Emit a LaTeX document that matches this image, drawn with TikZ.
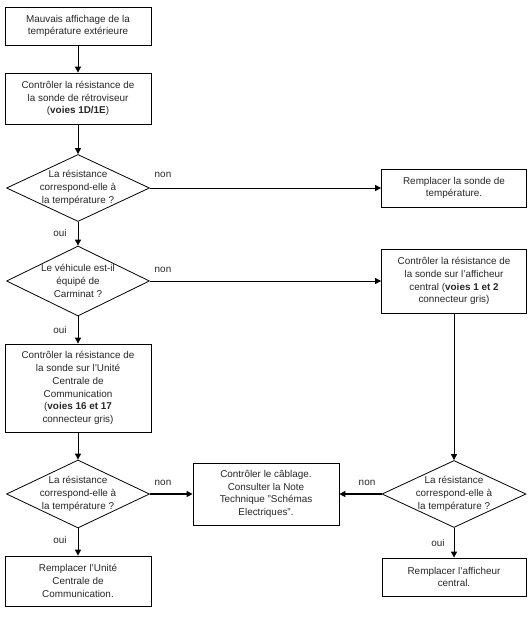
\documentclass[tikz,border=0pt]{standalone}
\usepackage{fontspec}
\setmainfont{Liberation Sans}
\usetikzlibrary{shapes.geometric,arrows.meta}
\begin{document}
\begin{tikzpicture}[x=1pt,y=-1pt,
  every node/.style={font=\fontsize{9.9}{12.8}\selectfont, text=black!85},
  box/.style={draw, line width=0.8pt, align=center, inner sep=0pt, minimum width=146pt},
  dia/.style={draw, diamond, line width=0.8pt, inner sep=0pt, minimum width=143pt, minimum height=#1},
  dtext/.style={align=center, inner sep=0pt},
  arr/.style={-{Triangle[length=6pt,width=6pt]}, line width=1pt},
  thickarr/.style={-{Triangle[length=6pt,width=6pt]}, line width=1.8pt},
  lab/.style={inner sep=0pt}]
\useasboundingbox (0,0) rectangle (530,629);
% left column
\node[box, minimum height=38pt] (b1) at (78,26) {Mauvais affichage de la\\température extérieure};
\node[box, minimum height=51pt] (b2) at (78,98.5) {Contrôler la résistance de\\la sonde de rétroviseur\\(\textbf{voies 1D/1E})};
\node[dia=67pt] (d1) at (78,188) {};
\node[dtext] (d1t) at (d1.center) {La résistance\\correspond-elle à\\la température ?};
\node[dia=70pt] (d2) at (78,281) {};
\node[dtext] (d2t) at (d2.center) {Le véhicule est-il\\équipé de\\Carminat ?};
\node[box, minimum height=88pt] (b3) at (78,388) {Contrôler la résistance de\\la sonde sur l'Unité\\Centrale de\\Communication\\(\textbf{voies 16 et 17}\\connecteur gris)};
\node[dia=68pt] (d3) at (78,494) {};
\node[dtext] (d3t) at (d3.center) {La résistance\\correspond-elle à\\la température ?};
\node[box, minimum height=50pt] (b4) at (78,581) {Remplacer l'Unité\\Centrale de\\Communication.};
% middle
\node[box, minimum height=62pt] (cab) at (266,494) {Contrôler le câblage.\\Consulter la Note\\Technique "Schémas\\Electriques".};
% right column
\node[box, minimum width=145pt, minimum height=38pt] (r1) at (454,188) {Remplacer la sonde de\\température.};
\node[box, minimum width=145pt, minimum height=64pt] (r2) at (454,281) {Contrôler la résistance de\\la sonde sur l'afficheur\\central (\textbf{voies 1 et 2}\\connecteur gris)};
\node[dia=67pt, minimum width=144pt] (d4) at (454,494) {};
\node[dtext] (d4t) at (d4.center) {La résistance\\correspond-elle à\\la température ?};
\node[box, minimum width=144pt, minimum height=38pt] (b5) at (454,577) {Remplacer l'afficheur\\central.};
% connectors
\draw[arr] (b1) -- (b2);
\draw[arr] (b2) -- (d1);
\draw[arr] (d1.east) -- (r1.west);
\draw[arr] (d1.south) -- (d2.north);
\draw[arr] (d2.east) -- (r2.west);
\draw[arr] (d2.south) -- (b3.north);
\draw[arr] (b3) -- (d3);
\draw[thickarr] (d3.east) -- (cab.west);
\draw[arr] (d3.south) -- (b4.north);
\draw[arr] (r2.south) -- (d4.north);
\draw[thickarr] (d4.west) -- (cab.east);
\draw[arr] (d4.south) -- (b5.north);
% labels
\node[lab] (n1) at (163,175) {non};
\node[lab] (o1) at (60,233) {oui};
\node[lab] (n2) at (163,270) {non};
\node[lab] (o2) at (60,330) {oui};
\node[lab] (n3) at (163,483) {non};
\node[lab] (o3) at (60,540) {oui};
\node[lab] (n4) at (367,483) {non};
\node[lab] (o4) at (438,543) {oui};
\end{tikzpicture}
\end{document}
